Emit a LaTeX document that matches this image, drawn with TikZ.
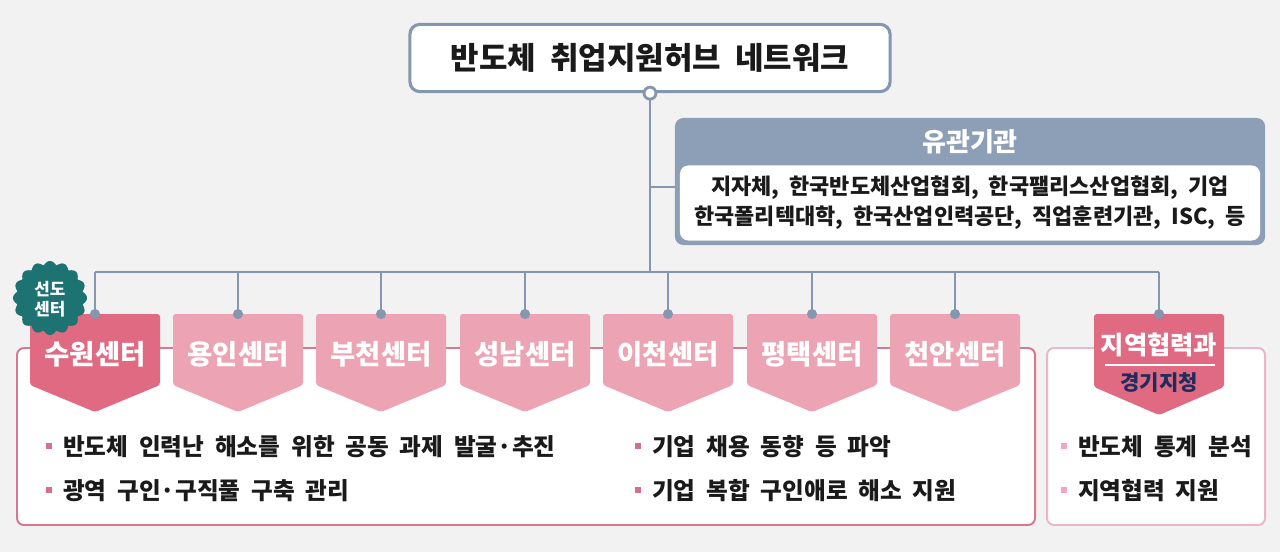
\documentclass[tikz,border=0pt]{standalone}
\usepackage{fontspec}
\setmainfont{Noto Sans CJK KR}[WordSpace=2.0]
\definecolor{bggray}{HTML}{F2F2F2}
\definecolor{lineblue}{HTML}{8597B0}
\definecolor{agencyfill}{HTML}{8D9EB7}
\definecolor{pinkdark}{HTML}{DF6A82}
\definecolor{pinklight}{HTML}{ECA4B4}
\definecolor{boxpink}{HTML}{D7788E}
\definecolor{boxpinklight}{HTML}{EDB6C4}
\definecolor{badgeteal}{HTML}{1D7272}
\definecolor{navy}{HTML}{1F2D5E}
\definecolor{ink}{HTML}{1A1A1A}
\definecolor{dotpink}{HTML}{D4708A}
\definecolor{dotlight}{HTML}{F0A6C4}
\newcommand{\sqdot}[1]{\textcolor{#1}{\rule[0.3em]{0.25em}{0.25em}}\hspace{0.48em}}
\begin{document}
\begin{tikzpicture}[x=0.025cm, y=-0.025cm,
    line/.style={lineblue, line width=2pt},
    center/.style={text=white, font=\bfseries\fontsize{19.5}{22}\selectfont},
    item/.style={anchor=west, text=ink, font=\bfseries\fontsize{16.8}{19}\selectfont}]
    \fill[bggray] (0,0) rectangle (1280,552);
    \useasboundingbox (0,0) rectangle (1280,552);

    % top of the network
    \node[draw=lineblue, line width=2.2pt, fill=white, rounded corners=7pt, minimum width=12cm, minimum height=1.68cm,
        font=\bfseries\fontsize{22}{25}\selectfont, text=ink] (title) at (650,58) {반도체 취업지원허브 네트워크};
    \coordinate (bus) at (650,272);
    \coordinate (branch) at (650,187);
    \draw[line] (title.south) -- (bus);

    \node[fill=agencyfill, rounded corners=6pt, minimum width=14.75cm, minimum height=3.175cm] (agency) at (970,181.5) {};
    \node[text=white, font=\bfseries\fontsize{18.5}{21}\selectfont] (agencyhead) at (970,142) {유관기관};
    \node[fill=white, rounded corners=6pt, minimum width=14.5cm, minimum height=1.875cm, align=center,
        text=ink, font=\bfseries\fontsize{15.6}{21.3}\selectfont] (members) at (970,203) {지자체, 한국반도체산업협회, 한국팰리스산업협회, 기업\\한국폴리텍대학, 한국산업인력공단, 직업훈련기관, ISC, 등};
    \draw[line] (branch) -- (branch -| agency.west);

    \node[draw=lineblue, line width=2pt, fill=white, circle, inner sep=0pt, minimum size=8.5pt] (knot) at (title.south) {};

    % boxes
    \draw[boxpink, line width=1.4pt, fill=white, rounded corners=5pt] (17,348) rectangle (1035,525);
    \draw[boxpinklight, line width=1.4pt, fill=white, rounded corners=5pt] (1047,348) rectangle (1265,525);

    \coordinate (busW) at (95,272);
    \coordinate (busE) at (1159,272);
    \draw[line] (busW) -- (busE);

    \foreach \x/\n/\t/\c in {95/suwon/수원센터/pinkdark, 238/yongin/용인센터/pinklight, 381/bucheon/부천센터/pinklight,
        525/seongnam/성남센터/pinklight, 668/icheon/이천센터/pinklight, 812/pyeongtaek/평택센터/pinklight, 955/cheonan/천안센터/pinklight} {
        \fill[\c, rounded corners=2pt] (\x-65,385) -- (\x-65,314) -- (\x+65,314) -- (\x+65,385) -- (\x,412) -- cycle;
        \node[center] (\n) at (\x,354) {\t};
    }

    % regional office
    \fill[pinkdark, rounded corners=2pt] (1094,387) -- (1094,314) -- (1224,314) -- (1224,387) -- (1159,415) -- cycle;
    \node[text=white, font=\bfseries\fontsize{18}{21}\selectfont] (region) at (1159,345) {지역협력과};
    \draw[white, line width=1.4pt] (1105,365) -- (1215,365);
    \node[text=navy, font=\bfseries\fontsize{15}{17}\selectfont] (branchoffice) at (1159,383) {경기지청};

    % leading centre badge
    \fill[badgeteal] plot[domain=0:360, samples=241, smooth] ({50+(33+4*abs(cos(8*\x)))*cos(\x)}, {298+(33+4*abs(cos(8*\x)))*sin(\x)}) -- cycle;
    \node[text=white, align=center, font=\bfseries\fontsize{12}{14.2}\selectfont] (lead) at (50,299) {선도\\센터};

    \foreach \x in {95,238,381,525,668,812,955,1159} {
        \draw[line] (\x,272) -- (\x,314);
        \fill[lineblue] (\x,314) circle (3.6pt);
    }

    % tasks
    \node[item] (taskA) at (41,447) {\sqdot{dotpink}반도체 인력난 해소를 위한 공동 과제 발굴·추진};
    \node[item] (taskB) at (41,491) {\sqdot{dotpink}광역 구인·구직풀 구축 관리};
    \node[item] (taskC) at (630,447) {\sqdot{dotpink}기업 채용 동향 등 파악};
    \node[item] (taskD) at (630,491) {\sqdot{dotpink}기업 복합 구인애로 해소 지원};
    \node[item] (taskE) at (1056,447) {\sqdot{dotlight}반도체 통계 분석};
    \node[item] (taskF) at (1056,491) {\sqdot{dotlight}지역협력 지원};
\end{tikzpicture}
\end{document}
